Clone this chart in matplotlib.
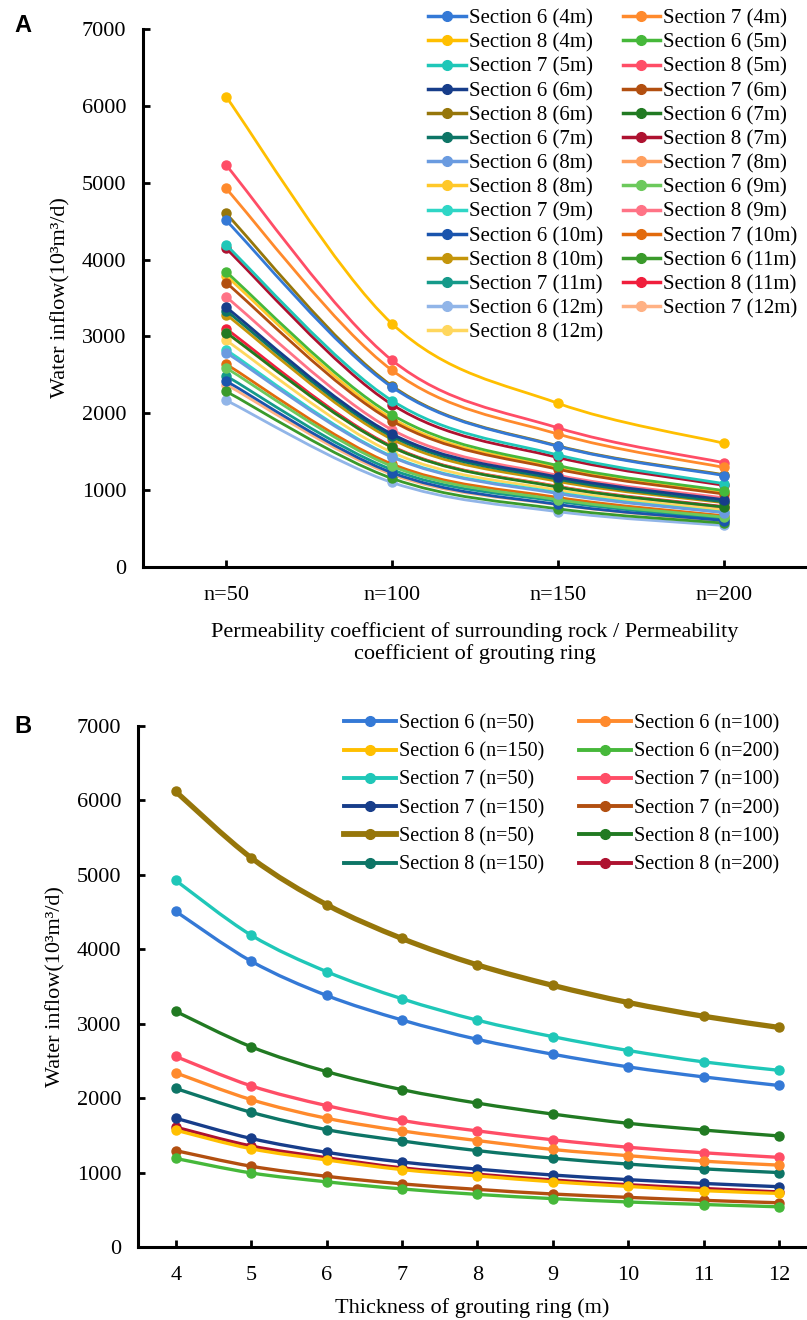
import numpy as np
import matplotlib
matplotlib.use('Agg')
import matplotlib.pyplot as plt
from matplotlib.path import Path
from matplotlib.patches import PathPatch
from matplotlib.lines import Line2D

plt.rcParams['font.family'] = ['Liberation Serif', 'DejaVu Serif']

# grouting ring thickness (m) and permeability ratio n
thickness = [4, 5, 6, 7, 8, 9, 10, 11, 12]
n_labels = ['n=50', 'n=100', 'n=150', 'n=200']

# water inflow (10^3 m^3/d), one list per section and n, values by thickness 4..12
s6_n50 = [4510, 3840, 3380, 3050, 2790, 2590, 2420, 2285, 2170]
s6_n100 = [2340, 1980, 1730, 1560, 1430, 1310, 1227, 1153, 1100]
s6_n150 = [1570, 1320, 1170, 1040, 955, 876, 814, 757, 720]
s6_n200 = [1190, 995, 876, 780, 707, 650, 605, 571, 540]
s7_n50 = [4925, 4190, 3700, 3335, 3047, 2826, 2640, 2487, 2374]
s7_n100 = [2560, 2165, 1900, 1700, 1560, 1440, 1340, 1266, 1204]
s7_n150 = [1730, 1458, 1272, 1142, 1046, 967, 905, 854, 810]
s7_n200 = [1295, 1085, 950, 848, 774, 712, 667, 627, 594]
s8_n50 = [6120, 5230, 4600, 4145, 3790, 3515, 3285, 3100, 2950]
s8_n100 = [3166, 2690, 2357, 2114, 1933, 1786, 1662, 1571, 1492]
s8_n150 = [2130, 1810, 1577, 1425, 1295, 1193, 1114, 1050, 1000]
s8_n200 = [1610, 1357, 1200, 1063, 978, 900, 837, 786, 740]

series_b = [s6_n50, s6_n100, s6_n150, s6_n200,
            s7_n50, s7_n100, s7_n150, s7_n200,
            s8_n50, s8_n100, s8_n150, s8_n200]
labels_b = ['Section 6 (n=50)', 'Section 6 (n=100)', 'Section 6 (n=150)', 'Section 6 (n=200)',
            'Section 7 (n=50)', 'Section 7 (n=100)', 'Section 7 (n=150)', 'Section 7 (n=200)',
            'Section 8 (n=50)', 'Section 8 (n=100)', 'Section 8 (n=150)', 'Section 8 (n=200)']

by_section = {6: [s6_n50, s6_n100, s6_n150, s6_n200],
              7: [s7_n50, s7_n100, s7_n150, s7_n200],
              8: [s8_n50, s8_n100, s8_n150, s8_n200]}

# panel A order: thickness outer, section inner (legend text kept as printed)
order_a = [(t, s) for t in thickness for s in (6, 7, 8)]
labels_a = ['Section %d (%dm)' % (s, t) for t, s in order_a]
labels_a[10] = 'Section 6 (7m)'

colors = ['#3479d6', '#ff8a2c', '#ffbf00', '#46b83a', '#1fc7b8', '#ff4d66',
          '#173d8a', '#b24f10', '#96760a', '#217a22', '#0d7566', '#ae1230',
          '#6a9be0', '#ff9f5e', '#ffc829', '#6cc95c', '#2fd6c6', '#ff7386',
          '#1a54ad', '#e26a0c', '#c4950a', '#3a9a2b', '#159a8a', '#f01e3c',
          '#91b5e8', '#ffb184', '#ffd75e']


def smooth(ax, xs, ys, color, lw, z):
    # Catmull-Rom style bezier, like spreadsheet "smoothed line"
    pts = np.column_stack([xs, ys]).astype(float)
    verts = [pts[0]]
    codes = [Path.MOVETO]
    for i in range(len(pts) - 1):
        p0 = pts[i - 1] if i > 0 else pts[i]
        p1, p2 = pts[i], pts[i + 1]
        p3 = pts[i + 2] if i + 2 < len(pts) else pts[i + 1]
        verts += [p1 + (p2 - p0) / 6, p2 - (p3 - p1) / 6, p2]
        codes += [Path.CURVE4] * 3
    ax.add_patch(PathPatch(Path(verts, codes), fill=False, edgecolor=color,
                           lw=lw, zorder=z, capstyle='round'))
    ax.plot(xs, ys, 'o', color=color, ms=6.5, zorder=z + 0.5)


def style_axes(ax):
    for side in ('top', 'right'):
        ax.spines[side].set_visible(False)
    for side in ('left', 'bottom'):
        ax.spines[side].set_linewidth(2.2)
    ax.tick_params(direction='in', width=2, length=5, labelsize=16)
    ax.set_ylim(0, 7000)
    ax.set_yticks(range(0, 7001, 1000))
    ax.tick_params(axis='y', pad=12)
    ax.tick_params(axis='x', pad=14)


def row_major(items, ncol=2):
    # legend fills column by column; reorder so entries read across rows
    return [items[i] for c in range(ncol) for i in range(c, len(items), ncol)]


fig = plt.figure(figsize=(8.07, 13.2), dpi=100)

# ---- panel A
axA = fig.add_axes([143 / 807, 1 - 567 / 1320, 1 - 143 / 807, (567 - 29) / 1320])
xa = np.arange(len(n_labels))
handles_a = []
for k, (t, s) in enumerate(order_a):
    ti = thickness.index(t)
    ys = [by_section[s][j][ti] for j in range(4)]
    smooth(axA, xa, ys, colors[k], 2.0, 2 + 27 - k)
    handles_a.append(Line2D([], [], color=colors[k], lw=2.5, marker='o', ms=7))
axA.set_xlim(-0.5, 3.5)
axA.set_xticks(xa)
axA.set_xticklabels(n_labels)
style_axes(axA)
axA.set_ylabel('Water inflow(10³m³/d)', fontsize=16, labelpad=8)
axA.set_xlabel('Permeability coefficient of surrounding rock / Permeability\ncoefficient of grouting ring',
               fontsize=16, labelpad=12, linespacing=1.15)
fig.legend(row_major(handles_a), row_major(labels_a), ncol=2, loc='upper left',
           bbox_to_anchor=(428 / 807, 1 - 9 / 1320),
           frameon=False, fontsize=15, handlelength=1.8, handletextpad=0.15,
           columnspacing=0.95, labelspacing=0.22, borderaxespad=0, borderpad=0)

# ---- panel B
axB = fig.add_axes([138 / 807, 1 - 1247 / 1320, 1 - 138 / 807, (1247 - 726) / 1320])
handles_b = []
for k, ys in enumerate(series_b):
    lw = 3.8 if k == 8 else 2.4
    smooth(axB, thickness, ys, colors[k], lw, 2 + 12 - k)
    handles_b.append(Line2D([], [], color=colors[k], lw=lw + 0.4, marker='o', ms=7))
axB.set_xlim(3.5, 12.37)
axB.set_xticks(thickness)
style_axes(axB)
axB.set_ylabel('Water inflow(10³m³/d)', fontsize=16, labelpad=8)
axB.set_xlabel('Thickness of grouting ring (m)', fontsize=16, labelpad=9)
fig.legend(row_major(handles_b), row_major(labels_b), ncol=2, loc='upper left',
           bbox_to_anchor=(344 / 807, 1 - 714 / 1320),
           frameon=False, fontsize=14.5, handlelength=2.6, handletextpad=0.15,
           columnspacing=1.7, labelspacing=0.45, borderaxespad=0, borderpad=0)

fig.text(14 / 807, 1 - 25 / 1320, 'A', family='Liberation Sans', weight='bold', fontsize=17, va='center')
fig.text(14 / 807, 1 - 726 / 1320, 'B', family='Liberation Sans', weight='bold', fontsize=17, va='center')

fig.savefig('out.png', dpi=100)
